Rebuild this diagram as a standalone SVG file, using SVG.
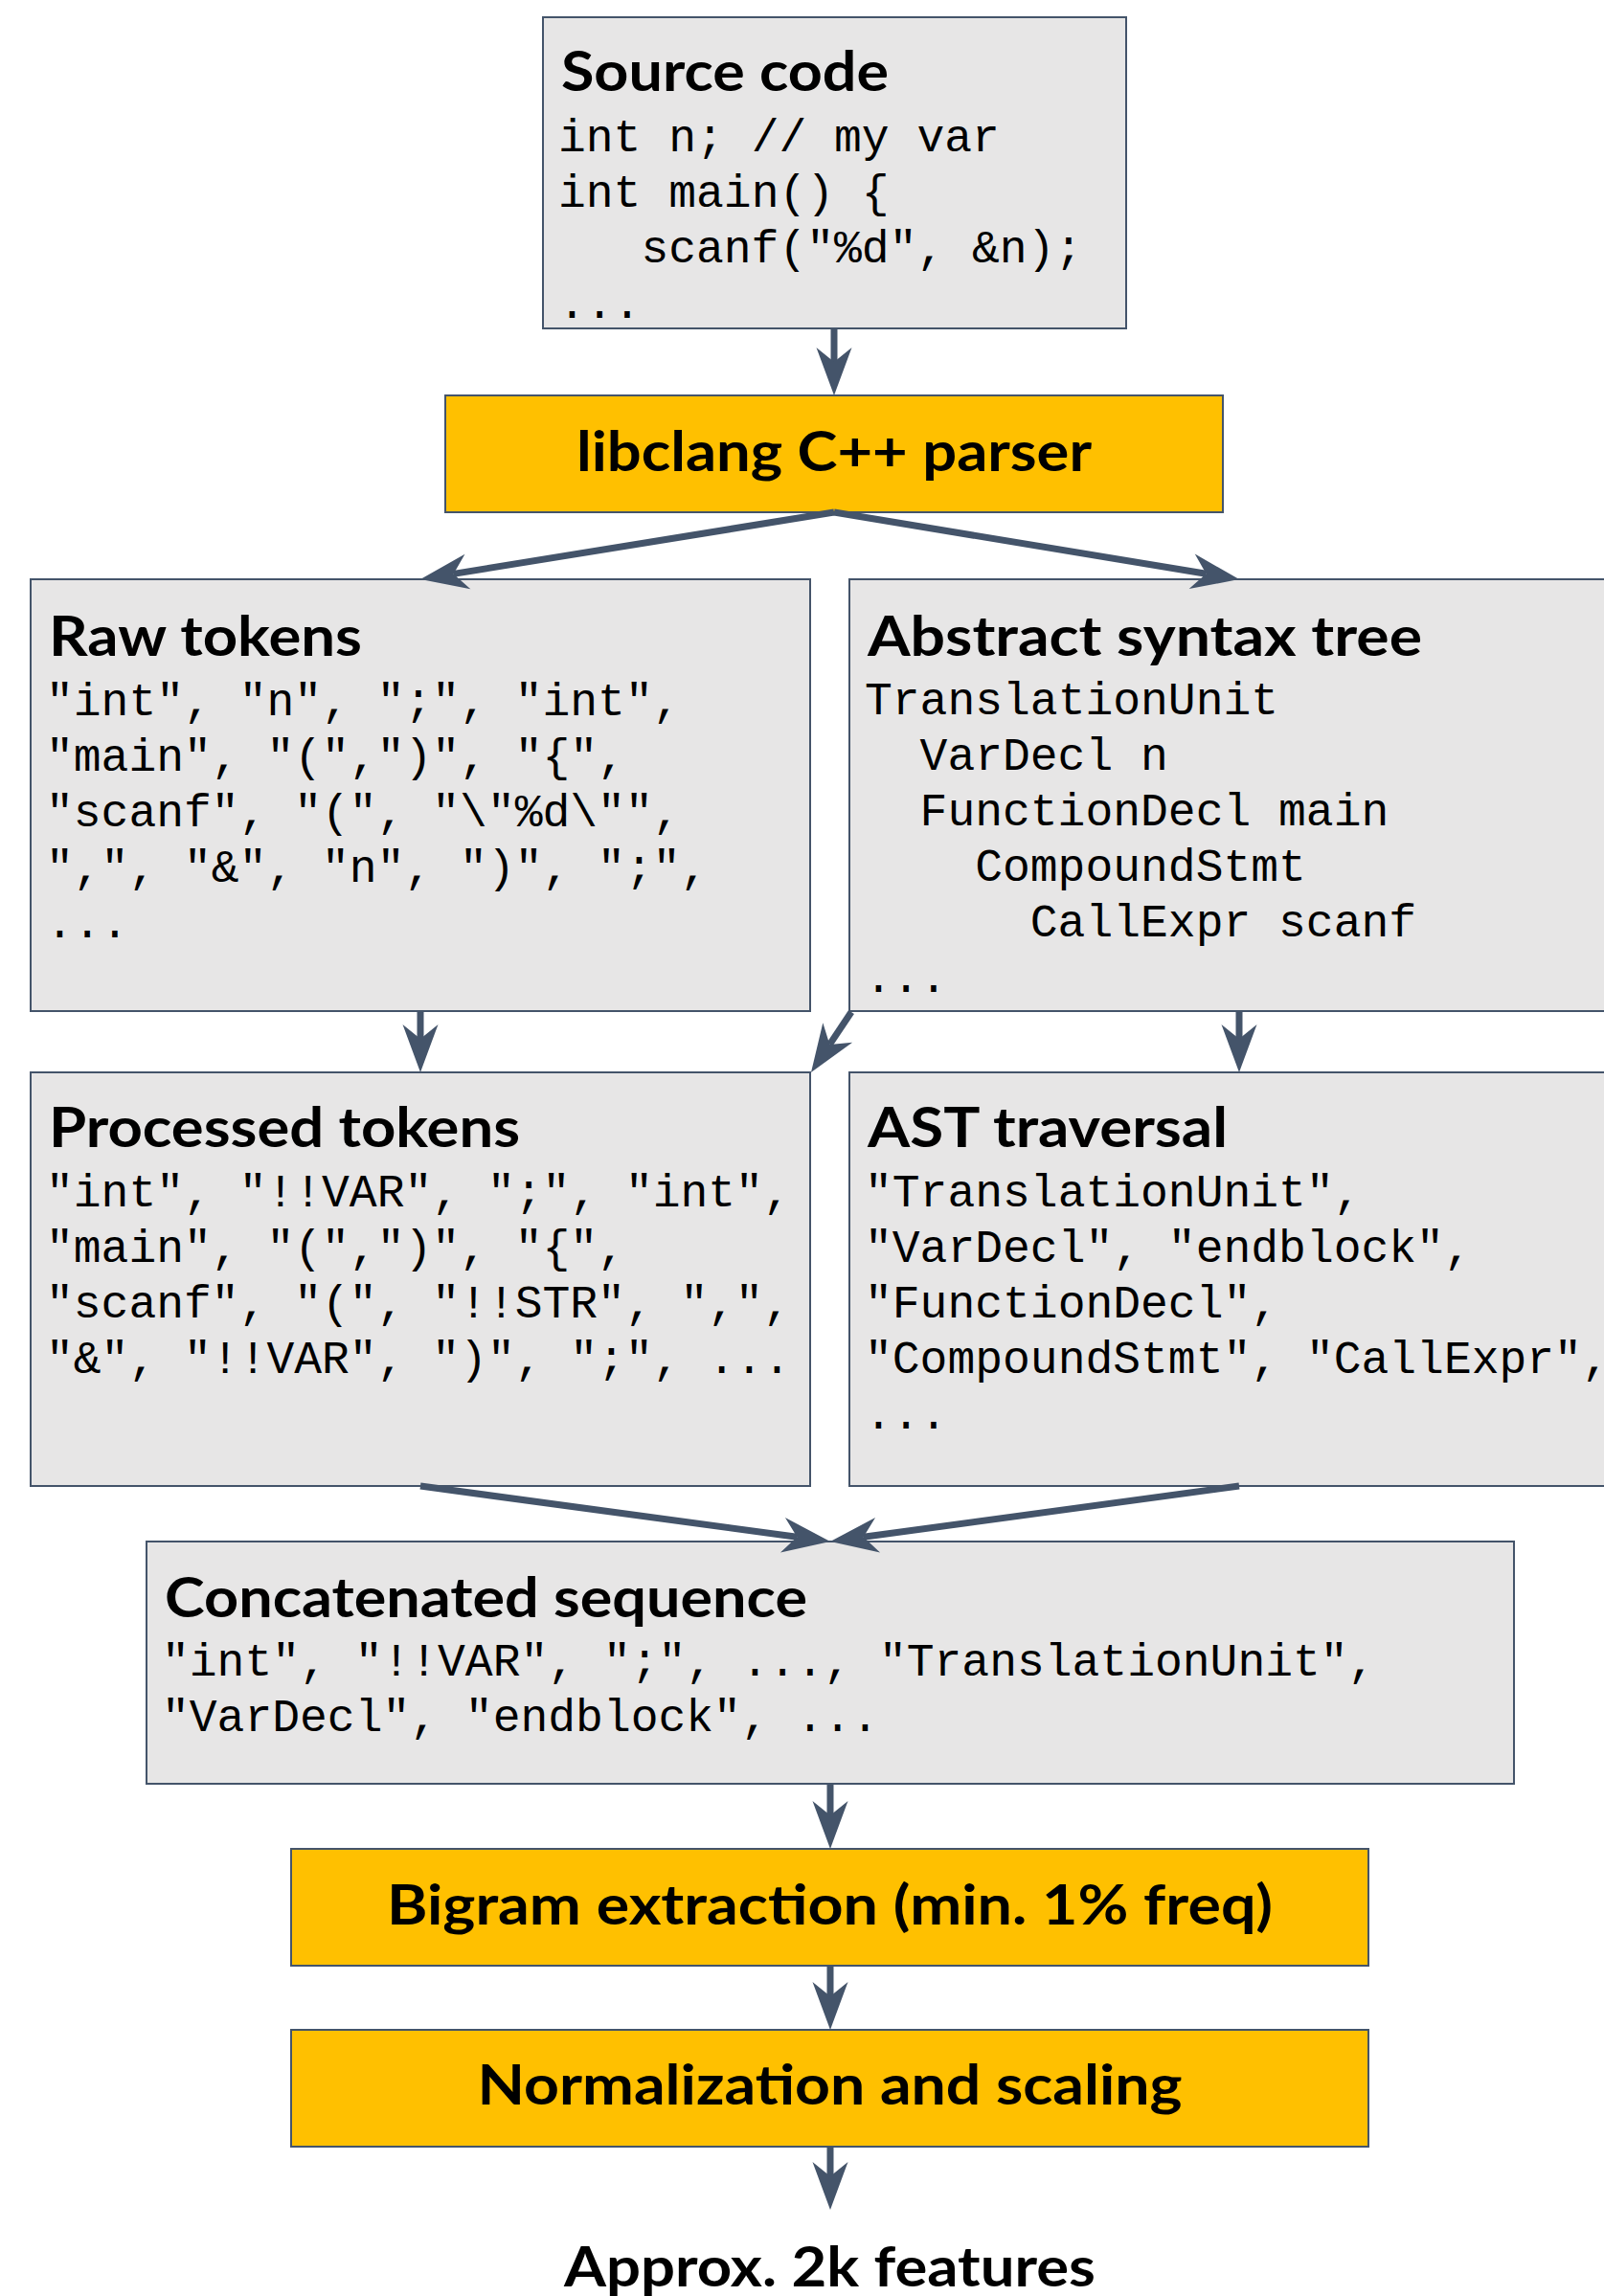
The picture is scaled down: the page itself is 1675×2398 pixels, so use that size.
<svg xmlns="http://www.w3.org/2000/svg" width="1675" height="2398" viewBox="0 0 1675 2398">
<style>
.box{fill:#e7e6e6;stroke:#44546a;stroke-width:2}
.ybox{fill:#ffc000;stroke:#44546a;stroke-width:2}
.title{font-family:Lato,"Liberation Sans",sans-serif;font-weight:bold;font-size:58px;fill:#000}
.ctitle{font-family:Lato,"Liberation Sans",sans-serif;font-weight:bold;font-size:58px;fill:#000;text-anchor:middle}
.mono{font-family:"Liberation Mono",monospace;font-size:48px;fill:#000}
.conn{fill:none;stroke:#44546a;stroke-width:7}
</style>
<defs>
<marker id="arr" markerUnits="userSpaceOnUse" viewBox="-52 -20 54 40" markerWidth="54" markerHeight="40" refX="-35" refY="0" orient="auto">
<path d="M0,0 L-50,-18.5 L-35,0 L-50,18.5 Z" fill="#44546a"/>
</marker>
</defs>
<rect width="1675" height="2398" fill="#ffffff"/>

<g id="source-code">
<rect class="box" x="567" y="18" width="609" height="325"/>
<text class="title" x="586" y="95" textLength="342" lengthAdjust="spacingAndGlyphs">Source code</text>
<text class="mono" x="583" y="158">int n; // my var</text>
<text class="mono" x="583" y="216">int main() {</text>
<text class="mono" x="669.4" y="274">scanf("%d", &amp;n);</text>
<text class="mono" x="583" y="332">...</text>
</g>

<g id="libclang">
<rect class="ybox" x="465" y="413" width="812" height="122"/>
<text class="ctitle" x="871" y="492" textLength="538" lengthAdjust="spacingAndGlyphs">libclang C++ parser</text>
</g>

<g id="raw-tokens">
<rect class="box" x="32" y="605" width="814" height="451"/>
<text class="title" x="51" y="685" textLength="327" lengthAdjust="spacingAndGlyphs">Raw tokens</text>
<text class="mono" x="48" y="747">"int", "n", ";", "int",</text>
<text class="mono" x="48" y="805">"main", "(",")", "{",</text>
<text class="mono" x="48" y="863">"scanf", "(", "\"%d\"",</text>
<text class="mono" x="48" y="921">",", "&amp;", "n", ")", ";",</text>
<text class="mono" x="48" y="979">...</text>
</g>

<g id="ast">
<rect class="box" x="887" y="605" width="814" height="451"/>
<text class="title" x="906" y="685" textLength="579" lengthAdjust="spacingAndGlyphs">Abstract syntax tree</text>
<text class="mono" x="903" y="746">TranslationUnit</text>
<text class="mono" x="960.6" y="804">VarDecl n</text>
<text class="mono" x="960.6" y="862">FunctionDecl main</text>
<text class="mono" x="1018.2" y="920">CompoundStmt</text>
<text class="mono" x="1075.8" y="978">CallExpr scanf</text>
<text class="mono" x="903" y="1036">...</text>
</g>

<g id="processed-tokens">
<rect class="box" x="32" y="1120" width="814" height="432"/>
<text class="title" x="51" y="1198" textLength="492" lengthAdjust="spacingAndGlyphs">Processed tokens</text>
<text class="mono" x="48" y="1260">"int", "!!VAR", ";", "int",</text>
<text class="mono" x="48" y="1318">"main", "(",")", "{",</text>
<text class="mono" x="48" y="1376">"scanf", "(", "!!STR", ",",</text>
<text class="mono" x="48" y="1434">"&amp;", "!!VAR", ")", ";", ...</text>
</g>

<g id="ast-traversal">
<rect class="box" x="887" y="1120" width="814" height="432"/>
<text class="title" x="906" y="1198" textLength="376" lengthAdjust="spacingAndGlyphs">AST traversal</text>
<text class="mono" x="903" y="1260">"TranslationUnit",</text>
<text class="mono" x="903" y="1318">"VarDecl", "endblock",</text>
<text class="mono" x="903" y="1376">"FunctionDecl",</text>
<text class="mono" x="903" y="1434">"CompoundStmt", "CallExpr",</text>
<text class="mono" x="903" y="1492">...</text>
</g>

<g id="concatenated">
<rect class="box" x="153" y="1610" width="1428" height="253"/>
<text class="title" x="172" y="1689" textLength="671" lengthAdjust="spacingAndGlyphs">Concatenated sequence</text>
<text class="mono" x="169" y="1750">"int", "!!VAR", ";", ..., "TranslationUnit",</text>
<text class="mono" x="169" y="1808">"VarDecl", "endblock", ...</text>
</g>

<g id="bigram">
<rect class="ybox" x="304" y="1931" width="1125" height="122"/>
<text class="ctitle" x="866.5" y="2010" textLength="925" lengthAdjust="spacingAndGlyphs">Bigram extraction (min. 1% freq)</text>
</g>

<g id="normalization">
<rect class="ybox" x="304" y="2120" width="1125" height="122"/>
<text class="ctitle" x="866.5" y="2198" textLength="736" lengthAdjust="spacingAndGlyphs">Normalization and scaling</text>
</g>

<g id="output">
<text class="ctitle" x="866.5" y="2388" textLength="555" lengthAdjust="spacingAndGlyphs">Approx. 2k features</text>
</g>

<g id="connectors">
<line class="conn" x1="871" y1="343" x2="871" y2="378" marker-end="url(#arr)"/>
<line class="conn" x1="871" y1="535" x2="473.6" y2="599.4" marker-end="url(#arr)"/>
<line class="conn" x1="871" y1="535" x2="1259.5" y2="599.3" marker-end="url(#arr)"/>
<line class="conn" x1="439" y1="1057" x2="439" y2="1085" marker-end="url(#arr)"/>
<line class="conn" x1="889" y1="1057" x2="866.4" y2="1090.9" marker-end="url(#arr)"/>
<line class="conn" x1="1294" y1="1057" x2="1294" y2="1085" marker-end="url(#arr)"/>
<line class="conn" x1="439" y1="1552" x2="832.3" y2="1605.3" marker-end="url(#arr)"/>
<line class="conn" x1="1294" y1="1552" x2="901.7" y2="1605.3" marker-end="url(#arr)"/>
<line class="conn" x1="867" y1="1863" x2="867" y2="1896" marker-end="url(#arr)"/>
<line class="conn" x1="867" y1="2053" x2="867" y2="2085" marker-end="url(#arr)"/>
<line class="conn" x1="867" y1="2242" x2="867" y2="2273" marker-end="url(#arr)"/>
</g>
</svg>
